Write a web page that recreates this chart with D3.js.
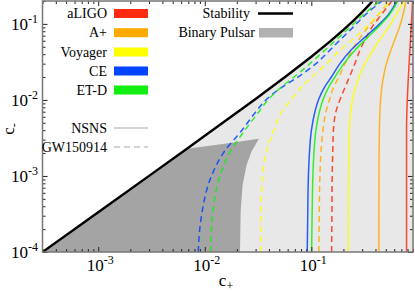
<!DOCTYPE html>
<html>
<head>
<meta charset="utf-8">
<script src="https://cdn.jsdelivr.net/npm/d3@7"></script>
<style>
  html, body { margin: 0; padding: 0; background: #fff; }
  svg { display: block; }
  svg text { font-family: "Liberation Serif", "Times New Roman", serif; }
</style>
</head>
<body>
<svg id="chart" width="415" height="292"></svg>
<script>
// c- levels at which every constraint curve is sampled
const cMinus = [1e-4, 3e-4, 1e-3, 2e-3, 4e-3, 7e-3, 0.01, 0.015, 0.02, 0.03, 0.045, 0.065, 0.09, 0.13, 0.2];

// c+ of each curve at the c- levels above (NSNS = solid, GW150914 = dashed)
const aligoNSNS   = [0.783, 0.783, 0.783, 0.783, 0.783, 0.788, 0.795, 0.806, 0.8145, 0.827, 0.841, 0.854, 0.865, 0.878, 0.892];
const aplusNSNS   = [0.4306, 0.4306, 0.4316, 0.4325, 0.4353, 0.4401, 0.4468, 0.4596, 0.4747, 0.5065, 0.5581, 0.6151, 0.6708, 0.7234, 0.7718];
const voyagerNSNS = [0.2219, 0.2224, 0.2234, 0.2248, 0.2277, 0.2342, 0.243, 0.262, 0.2796, 0.3183, 0.3784, 0.4498, 0.5288, 0.6219, 0.7393];
const ceNSNS      = [0.0915, 0.0925, 0.0939, 0.096, 0.1002, 0.1081, 0.1166, 0.1341, 0.1544, 0.1854, 0.235, 0.311, 0.404, 0.523, 0.635];
const etdNSNS     = [0.1006, 0.1017, 0.1035, 0.1058, 0.1105, 0.1191, 0.1285, 0.1463, 0.1665, 0.2022, 0.2565, 0.332, 0.4215, 0.535, 0.649];

const aligoGW   = [0.155, 0.156, 0.157, 0.1588, 0.1612, 0.1701, 0.1854, 0.2089, 0.2277, 0.2565, 0.2858, 0.3252, 0.370, 0.4498, 0.570];
const aplusGW   = [0.1178, 0.1186, 0.1204, 0.1231, 0.1285, 0.1371, 0.1479, 0.1629, 0.1816, 0.2067, 0.2404, 0.2858, 0.3396, 0.4215, 0.546];
const voyagerGW = [0.03346, 0.03368, 0.03478, 0.0375, 0.0446, 0.053, 0.0644, 0.0816, 0.1013, 0.140, 0.185, 0.251, 0.325, 0.42, 0.546];
const ceGW      = [0.00869, 0.00931, 0.01156, 0.01491, 0.02234, 0.0302, 0.0375, 0.0542, 0.0749, 0.1105, 0.149, 0.194, 0.246, 0.318, 0.46];
const etdGW     = [0.01136, 0.01181, 0.01389, 0.01705, 0.02382, 0.03224, 0.03917, 0.053, 0.0687, 0.097, 0.134, 0.178, 0.230, 0.305, 0.44];

const detectors = ["aLIGO", "A+", "Voyager", "CE", "ET-D"];
const detectorColors = ["#ff2a10", "#ffaa00", "#ffff00", "#0044ff", "#11ee11"];
const nsnsCurves = [aligoNSNS, aplusNSNS, voyagerNSNS, ceNSNS, etdNSNS];
const gwCurves = [aligoGW, aplusGW, voyagerGW, ceGW, etdGW];

// stability boundary [c+, c-]
const stability = [[3e-4, 1e-4], [1e-3, 3.34e-4], [3e-3, 1.003e-3], [6.8e-3, 2.28e-3], [0.01, 3.37e-3],
  [0.03, 0.0103], [0.06, 0.0213], [0.1, 0.037], [0.15, 0.0588], [0.2, 0.0833], [0.25, 0.111],
  [0.3, 0.143], [0.35, 0.179], [0.375, 0.2]];

// binary pulsar excluded region outline (right part), [c+, c-]
const pulsarEdge = [[6.8e-3, 2.28e-3], [0.01482, 2.636e-3], [0.03224, 3.096e-3], [0.02754, 2.113e-3],
  [0.02472, 1.408e-3], [0.02267, 7.68e-4], [0.02172, 3.46e-4], [0.0214, 1e-4]];

const xMajor = [1e-3, 1e-2, 1e-1];
const xMajorLabels = ["-3", "-2", "-1"];
const yMajor = [1e-4, 1e-3, 1e-2, 1e-1];
const yMajorLabels = ["-4", "-3", "-2", "-1"];

const L = 42.5, R = 413, T = 1, B = 252;
const svg = d3.select("#chart");
const x = d3.scaleLog().domain([3e-4, 0.9]).range([L, R]);
const y = d3.scaleLog().domain([1e-4, 0.2]).range([B, T]);

svg.append("defs").append("clipPath").attr("id", "plot")
  .append("rect").attr("x", L).attr("y", T).attr("width", R - L).attr("height", B - T);

const plot = svg.append("g").attr("clip-path", "url(#plot)");
plot.append("rect").attr("x", L).attr("y", T).attr("width", R - L).attr("height", B - T).attr("fill", "#e8e8e8");

const line = d3.line().x(d => x(d[0])).y(d => y(d[1]));

// unstable region above the stability line
plot.append("path")
  .attr("d", line(stability.concat([[3e-4, 0.2]])) + "Z")
  .attr("fill", "#fff");

// binary pulsar region: right edge, then back up along the stability line
const stabLow = stability.filter(d => d[0] <= 6.8e-3);
plot.append("path")
  .attr("d", line(pulsarEdge.concat(stabLow)) + "Z")
  .attr("fill", "#a4a4a4");

const curveLine = d3.line().curve(d3.curveMonotoneY).x(d => x(d[0])).y(d => y(d[1]));

function drawCurve(values, color, dashed) {
  const pts = values.map((v, i) => [v, cMinus[i]]);
  plot.append("path")
    .attr("d", curveLine(pts))
    .attr("fill", "none")
    .attr("stroke", color)
    .attr("stroke-opacity", 0.85)
    .attr("stroke-width", 1.5)
    .attr("stroke-dasharray", dashed ? "6,4" : null);
}

gwCurves.forEach((c, i) => drawCurve(c, detectorColors[i], true));
nsnsCurves.forEach((c, i) => drawCurve(c, detectorColors[i], false));

plot.append("path")
  .attr("d", line(stability))
  .attr("fill", "none")
  .attr("stroke", "#000")
  .attr("stroke-width", 2.4);

// axes: inward ticks on all four sides
const xMinor = x.ticks().filter(v => !xMajor.some(m => Math.abs(m - v) / m < 1e-6));
const yMinor = y.ticks().filter(v => !yMajor.some(m => Math.abs(m - v) / m < 1e-6));

function ticks(axis, values, size, transform) {
  const g = svg.append("g").attr("transform", transform)
    .call(axis.tickValues(values).tickSizeInner(size).tickSizeOuter(0).tickFormat(""));
  g.select(".domain").remove();
  g.selectAll(".tick line").attr("stroke", "#222").attr("stroke-width", 1);
  return g;
}

ticks(d3.axisBottom(x), xMinor, -3, `translate(0,${B})`);
ticks(d3.axisBottom(x), xMajor, -5, `translate(0,${B})`);
ticks(d3.axisTop(x), xMinor, -3, `translate(0,${T})`);
ticks(d3.axisTop(x), xMajor, -5, `translate(0,${T})`);
ticks(d3.axisLeft(y), yMinor, -3, `translate(${L},0)`);
ticks(d3.axisLeft(y), yMajor, -5, `translate(${L},0)`);
ticks(d3.axisRight(y), yMinor, -3, `translate(${R},0)`);
ticks(d3.axisRight(y), yMajor, -5, `translate(${R},0)`);

svg.append("rect").attr("x", L).attr("y", T).attr("width", R - L).attr("height", B - T)
  .attr("fill", "none").attr("stroke", "#777").attr("stroke-width", 1.5);

// tick labels with exponents
xMajor.forEach((v, i) => {
  const t = svg.append("text").attr("x", x(v) + 2).attr("y", 271)
    .attr("text-anchor", "middle").attr("font-size", 17);
  t.append("tspan").text("10");
  t.append("tspan").attr("dy", -7).attr("font-size", 12).text(xMajorLabels[i]);
});
yMajor.forEach((v, i) => {
  const t = svg.append("text").attr("x", 38).attr("y", y(v) + 6)
    .attr("text-anchor", "end").attr("font-size", 17);
  t.append("tspan").text("10");
  t.append("tspan").attr("dy", -7).attr("font-size", 12).text(yMajorLabels[i]);
});

// axis titles
const xt = svg.append("text").attr("x", 226).attr("y", 286).attr("text-anchor", "middle").attr("font-size", 17);
xt.append("tspan").text("c");
xt.append("tspan").attr("dy", 4).attr("font-size", 12).text("+");
const yt = svg.append("text").attr("transform", "translate(14,129) rotate(-90)")
  .attr("text-anchor", "middle").attr("font-size", 17);
yt.append("tspan").text("c");
yt.append("tspan").attr("dy", 4).attr("font-size", 12).text("-");

// legend: detectors
const legY = [13.5, 32.7, 52, 71, 90];
detectors.forEach((name, i) => {
  svg.append("text").attr("x", 107).attr("y", legY[i] + 4.5).attr("text-anchor", "end")
    .attr("font-size", 14).text(name);
  svg.append("rect").attr("x", 114).attr("y", legY[i] - 4.5).attr("width", 34).attr("height", 9)
    .attr("fill", detectorColors[i]);
});

const styleNames = ["NSNS", "GW150914"];
const styleY = [128, 147];
styleNames.forEach((name, i) => {
  svg.append("text").attr("x", 107).attr("y", styleY[i] + 4.5).attr("text-anchor", "end")
    .attr("font-size", 14).text(name);
  svg.append("line").attr("x1", 114).attr("x2", 148).attr("y1", styleY[i]).attr("y2", styleY[i])
    .attr("stroke", "#c4c4c4").attr("stroke-width", 1.5)
    .attr("stroke-dasharray", i === 1 ? "6,4" : null);
});

// legend: stability / binary pulsar
svg.append("text").attr("x", 250).attr("y", 18).attr("text-anchor", "end").attr("font-size", 14).text("Stability");
svg.append("line").attr("x1", 258).attr("x2", 293).attr("y1", 13.5).attr("y2", 13.5)
  .attr("stroke", "#000").attr("stroke-width", 2.5);
svg.append("text").attr("x", 255).attr("y", 37.2).attr("text-anchor", "end").attr("font-size", 14).text("Binary Pulsar");
svg.append("rect").attr("x", 259).attr("y", 28).attr("width", 34).attr("height", 9.5).attr("fill", "#b2b2b2");
</script>
</body>
</html>
